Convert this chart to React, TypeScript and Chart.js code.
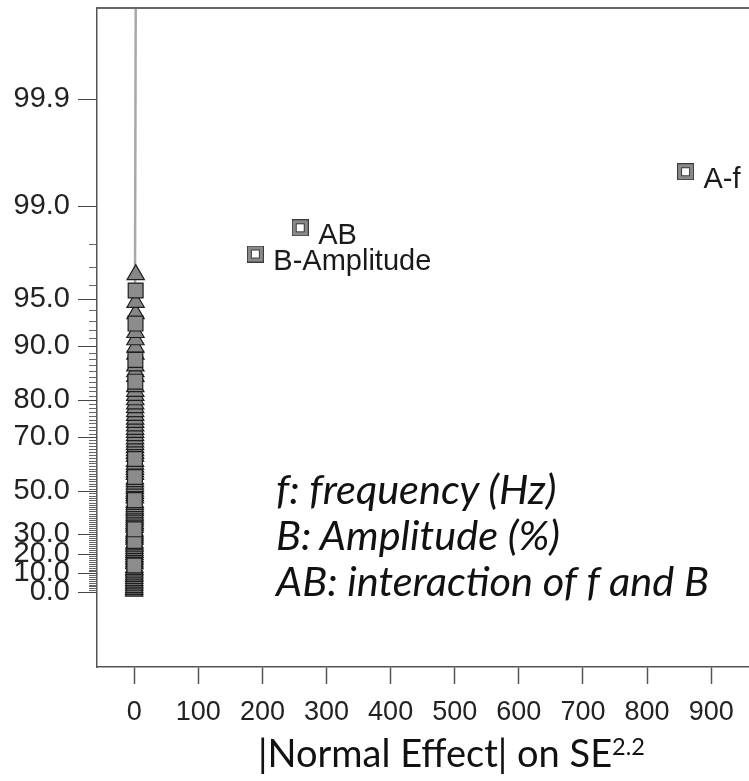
import React, { useEffect, useRef } from 'react';
import { Chart, registerables } from 'chart.js';

Chart.register(...registerables);

// ---- data (half-normal probability plot) ----
// probability (%) of small effects plotted as triangles
const triPct = [
  0.5, 1.5, 2.4, 3.4, 4.4, 5.3, 6.3, 7.3, 8.3, 9.2, 10.2, 11.2, 12.1, 13.1,
  15.1, 16.0, 17.0, 18.0, 18.9, 19.9, 20.9, 21.8, 22.8, 23.8, 24.8, 25.7,
  27.7, 28.6, 29.6, 30.6, 31.6,
  33.5, 34.5, 35.4, 36.4, 37.4, 38.3, 39.3, 40.3, 41.3, 42.2, 43.2, 44.2, 45.1,
  47.1, 48.1, 49.0, 50.0, 51.0, 51.9, 52.9, 53.9, 54.9,
  56.8, 57.8, 58.7, 59.7, 60.7, 61.7,
  63.6, 64.6, 65.5, 66.5, 67.5, 68.4, 69.4, 70.4, 71.4, 72.3, 73.3, 74.3, 75.2,
  76.2, 77.2, 78.2, 79.1, 80.1, 81.1, 82.0, 83.0,
  85.0, 85.9, 86.9,
  88.8, 89.8, 90.8, 91.7,
  93.7, 94.7,
  96.6,
];
const triEffect = [
  0.02, 0.03, 0.06, 0.07, 0.1, 0.12, 0.13, 0.16, 0.18, 0.2, 0.21, 0.24, 0.26, 0.28,
  0.31, 0.32, 0.35, 0.37, 0.38, 0.41, 0.43, 0.44, 0.47, 0.49, 0.5, 0.53,
  0.57, 0.58, 0.61, 0.63, 0.64,
  0.69, 0.7, 0.73, 0.75, 0.78, 0.79, 0.82, 0.84, 0.85, 0.88, 0.9, 0.91, 0.94,
  0.98, 0.99, 1.02, 1.03, 1.06, 1.07, 1.1, 1.12, 1.13,
  1.18, 1.19, 1.22, 1.23, 1.26, 1.27,
  1.32, 1.33, 1.36, 1.37, 1.4, 1.41, 1.44, 1.45, 1.48, 1.49, 1.52, 1.53, 1.56,
  1.57, 1.6, 1.61, 1.64, 1.65, 1.68, 1.69, 1.72,
  1.78, 1.8, 1.84,
  1.92, 1.95, 2.0, 2.04,
  2.15, 2.21,
  2.4,
];
// probability (%) of small effects plotted as squares
const sqPct = [14.1, 26.7, 32.5, 46.1, 55.8, 62.6, 84.0, 87.9, 92.7, 95.6];
const sqEffect = [0.3, 0.55, 0.67, 0.96, 1.16, 1.3, 1.76, 1.88, 2.1, 2.3];

// labelled (significant) effects
const namedTerms = ['B-Amplitude', 'AB', 'A-f'];
const namedEffect = [189, 259, 860];
const namedPct = [97.6, 98.5, 99.5];

// normal reference line (effect vs. z)
const lineEffect = [0, 2.4];
const lineZ = [0, 3.9];

// axis ticks
const xTickVals = [0, 100, 200, 300, 400, 500, 600, 700, 800, 900];
const yMajorPct = [0, 10, 20, 30, 50, 70, 80, 90, 95, 99, 99.9];
const yMinorStep = 1;

// ---- half-normal probability transform ----
function invNorm(p: number): number {
  const a = [-3.969683028665376e1, 2.209460984245205e2, -2.759285104469687e2, 1.38357751867269e2, -3.066479806614716e1, 2.506628277459239];
  const b = [-5.447609879822406e1, 1.615858368580409e2, -1.556989798598866e2, 6.680131188771972e1, -1.328068155288572e1];
  const c = [-7.784894002430293e-3, -3.223964580411365e-1, -2.400758277161838, -2.549732539343734, 4.374664141464968, 2.938163982698783];
  const d = [7.784695709041462e-3, 3.224671290700398e-1, 2.445134137142996, 3.754408661907416];
  const plow = 0.02425;
  const phigh = 1 - plow;
  if (p < plow) {
    const q = Math.sqrt(-2 * Math.log(p));
    return (((((c[0] * q + c[1]) * q + c[2]) * q + c[3]) * q + c[4]) * q + c[5]) / ((((d[0] * q + d[1]) * q + d[2]) * q + d[3]) * q + 1);
  }
  if (p <= phigh) {
    const q = p - 0.5;
    const r = q * q;
    return ((((((a[0] * r + a[1]) * r + a[2]) * r + a[3]) * r + a[4]) * r + a[5]) * q) / (((((b[0] * r + b[1]) * r + b[2]) * r + b[3]) * r + b[4]) * r + 1);
  }
  const q = Math.sqrt(-2 * Math.log(1 - p));
  return -(((((c[0] * q + c[1]) * q + c[2]) * q + c[3]) * q + c[4]) * q + c[5]) / ((((d[0] * q + d[1]) * q + d[2]) * q + d[3]) * q + 1);
}
const hnZ = (pct: number) => (pct <= 0 ? 0 : invNorm(0.5 + pct / 200));

function makeDoubleSquare(): HTMLCanvasElement {
  const c = document.createElement('canvas');
  c.width = 17;
  c.height = 17;
  const g = c.getContext('2d')!;
  g.fillStyle = '#3a3a3a';
  g.fillRect(0, 0, 17, 17);
  g.fillStyle = '#8a8a8a';
  g.fillRect(1, 1, 15, 15);
  g.fillStyle = '#3a3a3a';
  g.fillRect(4, 4, 9, 9);
  g.fillStyle = '#fff';
  g.fillRect(5, 5, 7, 7);
  return c;
}

export default function App() {
  const ref = useRef<HTMLCanvasElement>(null);

  useEffect(() => {
    document.body.style.margin = '0';
    document.body.style.overflow = 'hidden';
    const canvas = ref.current!;

    const yTicks: { value: number; pct: number; major: boolean }[] = [];
    for (let p = 0; p < 100; p += yMinorStep) {
      yTicks.push({ value: hnZ(p), pct: p, major: yMajorPct.includes(p) });
    }
    yTicks.push({ value: hnZ(99.9), pct: 99.9, major: true });

    const frame = {
      id: 'frame',
      afterDraw(chart: any) {
        const { ctx, chartArea } = chart;
        const ys = chart.scales.y;
        ctx.save();
        ctx.strokeStyle = '#666';
        ctx.lineWidth = 2;
        ctx.beginPath();
        ctx.moveTo(chartArea.left, chartArea.top);
        ctx.lineTo(chartArea.right, chartArea.top);
        ctx.stroke();
        for (const t of yTicks) {
          const py = Math.round(ys.getPixelForValue(t.value)) + 0.5;
          const len = t.major ? 19 : 8;
          ctx.strokeStyle = t.major ? '#444' : '#666';
          ctx.lineWidth = 1;
          ctx.beginPath();
          ctx.moveTo(chartArea.left - len, py);
          ctx.lineTo(chartArea.left, py);
          ctx.stroke();
        }
        ctx.restore();
      },
      afterDatasetsDraw(chart: any) {
        const { ctx } = chart;
        const meta = chart.getDatasetMeta(0);
        ctx.save();
        ctx.font = '29px "Liberation Sans", Arial, sans-serif';
        ctx.fillStyle = '#1a1a1a';
        ctx.textBaseline = 'alphabetic';
        ctx.textAlign = 'left';
        meta.data.forEach((el: any, i: number) => {
          ctx.fillText(namedTerms[i], el.x + 18, el.y + 16);
        });
        ctx.restore();
      },
    };

    const chart = new Chart(canvas, {
      type: 'scatter',
      data: {
        datasets: [
          {
            label: 'named',
            data: namedEffect.map((x, i) => ({ x, y: hnZ(namedPct[i]) })),
            pointStyle: makeDoubleSquare() as any,
            pointRadius: 9,
          },
          {
            label: 'squares',
            data: sqEffect.map((x, i) => ({ x, y: hnZ(sqPct[i]) })),
            pointStyle: 'rect',
            pointRadius: 10.5,
            backgroundColor: '#8c8c8c',
            borderColor: '#1e1e1e',
            borderWidth: 1.2,
          },
          {
            label: 'triangles',
            data: triEffect.map((x, i) => ({ x, y: hnZ(triPct[i]) })),
            pointStyle: 'triangle',
            pointRadius: 10,
            backgroundColor: '#878787',
            borderColor: '#1e1e1e',
            borderWidth: 1.2,
          },
          {
            label: 'line',
            data: lineEffect.map((x, i) => ({ x, y: lineZ[i] })),
            showLine: true,
            pointRadius: 0,
            borderColor: '#a8a8a8',
            borderWidth: 2.5,
          } as any,
        ],
      },
      options: {
        animation: false,
        responsive: false,
        layout: { autoPadding: false, padding: { top: 8, left: 0, right: 0, bottom: 0 } },
        plugins: { legend: { display: false }, tooltip: { enabled: false } },
        scales: {
          x: {
            type: 'linear',
            min: -58,
            max: 959,
            afterBuildTicks: (s: any) => {
              s.ticks = xTickVals.map((v) => ({ value: v }));
            },
            afterFit: (s: any) => {
              s.height = 63;
              s.paddingLeft = 0;
              s.paddingRight = 0;
            },
            grid: { drawOnChartArea: false, drawTicks: true, tickLength: 17, tickColor: '#555', tickWidth: 1.5 },
            border: { display: true, color: '#555', width: 1.5 },
            ticks: {
              padding: 12,
              autoSkip: false,
              maxRotation: 0,
              color: '#222',
              font: { family: '"Liberation Sans", Arial, sans-serif', size: 27 },
              callback: (v: any) => String(v),
            },
          },
          y: {
            type: 'linear',
            min: -0.5,
            max: 3.9,
            afterBuildTicks: (s: any) => {
              s.ticks = yTicks.map((t) => ({ ...t }));
            },
            afterFit: (s: any) => {
              s.width = 97;
              s.paddingTop = 0;
              s.paddingBottom = 0;
            },
            grid: { display: false, drawTicks: false },
            border: { display: true, color: '#555', width: 1.5 },
            ticks: {
              padding: 27,
              autoSkip: false,
              color: '#222',
              font: { family: '"Liberation Sans", Arial, sans-serif', size: 29 },
              callback: (_v: any, i: number, ticks: any[]) => (ticks[i].major ? ticks[i].pct.toFixed(1) : ''),
            },
          },
        },
      },
      plugins: [frame],
    });
    return () => chart.destroy();
  }, []);

  return (
    <div style={{ position: 'relative', width: 749, height: 781, background: '#fff', overflow: 'hidden' }}>
      <canvas ref={ref} width={749} height={730} style={{ position: 'absolute', left: 0, top: 0, width: 749, height: 730 }} />
      <div
        style={{
          position: 'absolute',
          left: 276,
          top: 465,
          fontFamily: 'Lato, "Open Sans", sans-serif',
          fontStyle: 'italic',
          fontSize: 41.5,
          lineHeight: '46px',
          color: '#111',
          whiteSpace: 'nowrap',
        }}
      >
        <div>f: frequency (Hz)</div>
        <div>B: Amplitude (%)</div>
        <div>AB: interaction of f and B</div>
      </div>
      <div
        style={{
          position: 'absolute',
          left: 258,
          top: 733,
          fontFamily: 'Lato, "Open Sans", sans-serif',
          fontSize: 38,
          lineHeight: 1,
          color: '#111',
          whiteSpace: 'nowrap',
        }}
      >
        |Normal Effect| on SE<sup style={{ fontSize: '0.62em', verticalAlign: 'top', position: 'relative', top: 2 }}>2.2</sup>
      </div>
    </div>
  );
}
